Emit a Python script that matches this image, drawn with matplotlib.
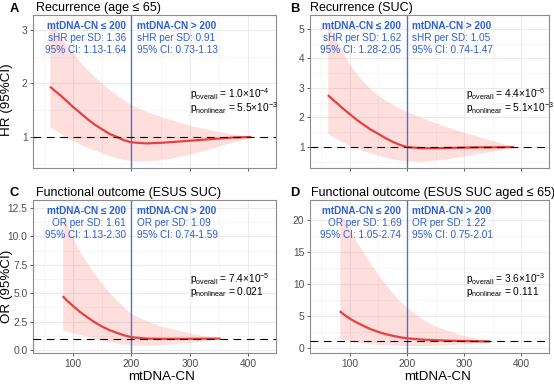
import matplotlib
matplotlib.use("Agg")
import matplotlib.pyplot as plt
import numpy as np

plt.rcParams['font.family'] = ['Liberation Sans', 'DejaVu Sans']
plt.rcParams['mathtext.fontset'] = 'custom'
plt.rcParams['mathtext.rm'] = 'Liberation Sans'
plt.rcParams['mathtext.it'] = 'Liberation Sans:italic'
plt.rcParams['mathtext.bf'] = 'Liberation Sans:bold'

# ---------------- data ----------------
# Panel A: Recurrence (age <= 65)
a_x = [60, 70, 80, 90, 100, 112, 125, 137, 150, 162, 175, 187, 200, 225, 250, 275, 300, 325, 350, 375, 406]
a_est = [1.94, 1.85, 1.76, 1.66, 1.56, 1.45, 1.33, 1.23, 1.14, 1.06, 1.00, 0.94, 0.90, 0.88, 0.89, 0.91, 0.93, 0.95, 0.97, 0.99, 1.00]
a_hi = [3.15, 3.00, 2.85, 2.70, 2.56, 2.40, 2.25, 2.12, 2.00, 1.89, 1.78, 1.69, 1.60, 1.48, 1.38, 1.30, 1.22, 1.16, 1.10, 1.05, 1.00]
a_lo = [1.19, 1.12, 1.05, 0.99, 0.93, 0.86, 0.80, 0.75, 0.70, 0.65, 0.61, 0.58, 0.55, 0.55, 0.57, 0.62, 0.68, 0.75, 0.83, 0.91, 1.00]

# Panel B: Recurrence (SUC)
b_x = [62, 70, 80, 90, 100, 112, 125, 137, 150, 162, 175, 187, 200, 225, 250, 275, 300, 325, 350, 387]
b_est = [2.76, 2.62, 2.45, 2.28, 2.12, 1.93, 1.75, 1.59, 1.45, 1.31, 1.18, 1.08, 1.00, 0.96, 0.96, 0.97, 0.98, 0.99, 0.99, 1.00]
b_hi = [5.20, 4.85, 4.50, 4.15, 3.80, 3.48, 3.20, 2.96, 2.75, 2.59, 2.45, 2.32, 2.20, 2.00, 1.82, 1.65, 1.50, 1.35, 1.22, 1.00]
b_lo = [1.46, 1.36, 1.25, 1.15, 1.05, 0.96, 0.87, 0.79, 0.72, 0.66, 0.60, 0.56, 0.53, 0.52, 0.56, 0.62, 0.70, 0.78, 0.86, 1.00]

# Panel C: Functional outcome (ESUS SUC)
c_x = [82, 90, 100, 112, 125, 137, 150, 162, 175, 187, 200, 225, 250, 275, 300, 325, 353]
c_est = [4.73, 4.32, 3.85, 3.33, 2.85, 2.43, 2.05, 1.75, 1.50, 1.29, 1.12, 1.00, 0.98, 0.98, 0.98, 0.99, 1.00]
c_hi = [12.1, 11.0, 9.8, 8.6, 7.6, 6.65, 5.8, 5.05, 4.4, 3.75, 3.2, 2.6, 2.1, 1.8, 1.5, 1.25, 1.00]
c_lo = [1.78, 1.65, 1.50, 1.35, 1.20, 1.02, 0.85, 0.72, 0.60, 0.52, 0.45, 0.42, 0.48, 0.56, 0.66, 0.80, 1.00]

# Panel D: Functional outcome (ESUS SUC aged <= 65)
d_x = [83, 90, 100, 112, 125, 137, 150, 162, 175, 187, 200, 225, 250, 275, 300, 325, 345]
d_est = [5.73, 5.22, 4.60, 3.98, 3.40, 2.92, 2.50, 2.17, 1.90, 1.68, 1.50, 1.30, 1.20, 1.12, 1.07, 1.03, 1.00]
d_hi = [21.0, 20.0, 18.5, 16.6, 14.8, 13.1, 11.5, 10.0, 8.6, 7.4, 6.3, 4.6, 3.4, 2.6, 1.9, 1.4, 1.00]
d_lo = [1.40, 1.25, 1.05, 0.90, 0.75, 0.64, 0.55, 0.48, 0.42, 0.38, 0.36, 0.36, 0.42, 0.52, 0.65, 0.80, 1.00]

letters = ["A", "B", "C", "D"]
titles = ["Recurrence (age ≤ 65)", "Recurrence (SUC)",
          "Functional outcome (ESUS SUC)", "Functional outcome (ESUS SUC aged ≤ 65)"]
left_lines = [["mtDNA-CN ≤ 200", "sHR per SD: 1.36", "95% CI: 1.13-1.64"],
              ["mtDNA-CN ≤ 200", "sHR per SD: 1.62", "95% CI: 1.28-2.05"],
              ["mtDNA-CN ≤ 200", "OR per SD: 1.61", "95% CI: 1.13-2.30"],
              ["mtDNA-CN ≤ 200", "OR per SD: 1.69", "95% CI: 1.05-2.74"]]
right_lines = [["mtDNA-CN > 200", "sHR per SD: 0.91", "95% CI: 0.73-1.13"],
               ["mtDNA-CN > 200", "sHR per SD: 1.05", "95% CI: 0.74-1.47"],
               ["mtDNA-CN > 200", "OR per SD: 1.09", "95% CI: 0.74-1.59"],
               ["mtDNA-CN > 200", "OR per SD: 1.22", "95% CI: 0.75-2.01"]]
p_overall = [r"1.0×10$^{\mathrm{-4}}$", r"4.4×10$^{\mathrm{-6}}$",
             r"7.4×10$^{\mathrm{-5}}$", r"3.6×10$^{\mathrm{-3}}$"]
p_nonlinear = [r"5.5×10$^{\mathrm{-3}}$", r"5.1×10$^{\mathrm{-3}}$", "0.021", "0.111"]

ylims = [(0.42, 3.28), (0.29, 5.47), (-0.27, 13.2), (-0.8, 23.1)]
ymajor = [[1, 2, 3], [1, 2, 3, 4, 5], [0, 2.5, 5, 7.5, 10, 12.5], [0, 5, 10, 15, 20]]
yminor = [[0.5, 1.5, 2.5], [0.5, 1.5, 2.5, 3.5, 4.5],
          [1.25, 3.75, 6.25, 8.75, 11.25], [2.5, 7.5, 12.5, 17.5, 22.5]]
ytick_labels = [["1", "2", "3"], ["1", "2", "3", "4", "5"],
                ["0.0", "2.5", "5.0", "7.5", "10.0", "12.5"], ["0", "5", "10", "15", "20"]]
xmajor = [100, 200, 300, 400]
xminor = [50, 150, 250, 350]
xlim = (31, 448)

series = [(a_x, a_est, a_lo, a_hi), (b_x, b_est, b_lo, b_hi),
          (c_x, c_est, c_lo, c_hi), (d_x, d_est, d_lo, d_hi)]

# ---------------- layout ----------------
W, H = 554, 385
fig = plt.figure(figsize=(W / 100, H / 100), dpi=100)
boxes = [(33, 15, 276, 168), (310, 15, 549, 168), (33, 200, 276, 353), (310, 200, 549, 353)]

blue = "#2A5FD8"
red = "#E8403D"

for i, (x0, y0, x1, y1) in enumerate(boxes):
    ax = fig.add_axes([x0 / W, 1 - y1 / H, (x1 - x0) / W, (y1 - y0) / H])
    xs, est, lo, hi = series[i]
    ax.set_xlim(*xlim)
    ax.set_ylim(*ylims[i])
    ax.set_xticks(xmajor)
    ax.set_xticks(xminor, minor=True)
    ax.set_yticks(ymajor[i])
    ax.set_yticklabels(ytick_labels[i])
    ax.set_yticks(yminor[i], minor=True)
    ax.grid(which='major', color='#EBEBEB', lw=0.8, zorder=0)
    ax.grid(which='minor', color='#F3F3F3', lw=0.5, zorder=0)
    ax.set_axisbelow(True)
    ax.tick_params(which='major', length=2.5, width=0.6, color='#444444',
                   labelsize=7.4, labelcolor='#4D4D4D', pad=1.5)
    ax.tick_params(which='minor', length=0)
    if i < 2:
        ax.set_xticklabels([])
    for s in ax.spines.values():
        s.set_color('#8C8C8C')
        s.set_linewidth(0.8)

    ax.fill_between(xs, lo, hi, color='#FF5A5A', alpha=0.2, lw=0, zorder=1)
    ax.axvline(200, color='#3D6FF0', lw=0.95, zorder=2.5)
    ax.plot(xs, est, color=red, lw=1.6, zorder=3, solid_capstyle='butt',
            solid_joinstyle='round')
    ax.axhline(1, color='black', lw=0.8, linestyle=(0, (7, 5)), zorder=4)

    ys = [0.93, 0.848, 0.774]
    for j in range(3):
        fw = 'bold' if j == 0 else 'normal'
        ax.annotate(left_lines[i][j], xy=(200, ys[j]), xycoords=('data', 'axes fraction'),
                    xytext=(-4, 0), textcoords='offset points', ha='right', va='center',
                    fontsize=7.2, color=blue, fontweight=fw)
        ax.annotate(right_lines[i][j], xy=(200, ys[j]), xycoords=('data', 'axes fraction'),
                    xytext=(4, 0), textcoords='offset points', ha='left', va='center',
                    fontsize=7.2, color=blue, fontweight=fw)

    px = 0.645 if i % 2 == 0 else 0.652
    pyc = 0.437 if i < 2 else 0.445
    ptxt = (r"p$_{\mathrm{overall}}$ = " + p_overall[i] + "\n" +
            r"p$_{\mathrm{nonlinear}}$ = " + p_nonlinear[i])
    ax.text(px, pyc, ptxt, transform=ax.transAxes, ha='left', va='center',
            fontsize=7.3, color='black', linespacing=0.82)

# titles
title_pos = [(10, 36, 8.5), (290, 310, 8.5), (9, 36, 193), (290, 311, 193)]
for i, (lx, tx, ty) in enumerate(title_pos):
    fig.text(lx / W, 1 - ty / H, letters[i], fontsize=9.3, fontweight='bold',
             ha='left', va='center')
    fig.text(tx / W, 1 - ty / H, titles[i], fontsize=9.0, ha='left', va='center')

# axis labels
fig.text(7 / W, 1 - 100 / H, "HR (95%CI)", rotation=90, fontsize=9.6, ha='center', va='center')
fig.text(7 / W, 1 - 286 / H, "OR (95%CI)", rotation=90, fontsize=9.6, ha='center', va='center')
fig.text(161.5 / W, 1 - 377 / H, "mtDNA-CN", fontsize=9.6, ha='center', va='center')
fig.text(437.5 / W, 1 - 377 / H, "mtDNA-CN", fontsize=9.6, ha='center', va='center')

fig.savefig("out.png", dpi=100)
